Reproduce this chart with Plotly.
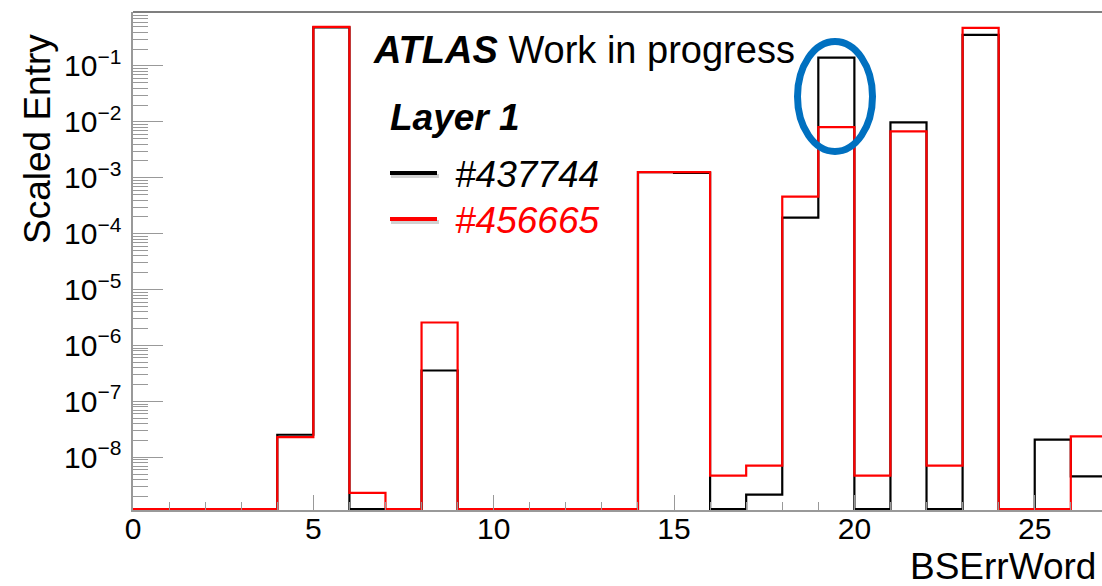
import plotly.graph_objects as go

# ---------------- data ----------------
bin_edges = list(range(0, 28))  # BSErrWord bins 0..27
run_437744 = [0, 0, 0, 0, 2.54e-8, 0.49, 0, 0, 3.58e-7, 0, 0, 0, 0, 0,
              1.26e-3, 1.22e-3, 0, 2.16e-9, 1.93e-4, 0.141, 0, 9.75e-3, 0,
              0.358, 0, 2.07e-8, 4.58e-9]
run_456665 = [0, 0, 0, 0, 2.31e-8, 0.497, 2.31e-9, 0, 2.58e-6, 0, 0, 0, 0, 0,
              1.26e-3, 1.26e-3, 4.71e-9, 7.11e-9, 4.58e-4, 8.04e-3, 4.71e-9,
              6.74e-3, 7.11e-9, 0.478, 0, 0, 2.37e-8]
x_tick_vals = [0, 5, 10, 15, 20, 25]
series_names = ["#437744", "#456665"]
series_colors = ["#000000", "#ff0000"]

# ---------------- layout constants ----------------
W, H = 1102, 586
ML, MR, MT, MB = 133, 0, 12, 76
PW, PH = W - ML - MR, H - MT - MB
X_RANGE = [0, 26.865]
Y_RANGE = [-8.941, -0.036]
FONT = "Liberation Sans, Arial, Helvetica, sans-serif"
zero_floor = 10 ** (Y_RANGE[0] + 0.018)  # ROOT draws empty bins at the frame bottom


def px_x(p):
    return (p - ML) / PW


def px_y(p):
    return (H - MB - p) / PH


def step_xy(vals):
    ys = [v if v > 0 else zero_floor for v in vals]
    return bin_edges, ys + [ys[-1]]


fig = go.Figure()
for vals, name, col in zip([run_437744, run_456665], series_names, series_colors):
    xs, ys = step_xy(vals)
    fig.add_trace(go.Scatter(x=xs, y=ys, mode="lines", line=dict(color=col, width=2.2, shape="hv"),
                             name=name, showlegend=False, hoverinfo="skip"))

fig.update_layout(
    width=W, height=H, margin=dict(l=ML, r=MR, t=MT, b=MB),
    paper_bgcolor="white", plot_bgcolor="white",
    font=dict(family=FONT, color="black"),
    xaxis=dict(range=X_RANGE, tickmode="array", tickvals=x_tick_vals,
               ticktext=[str(v) for v in x_tick_vals], ticks="inside", ticklen=15, tickwidth=1,
               tickcolor="#999999", showline=True, linecolor="#999999", linewidth=1.5,
               showgrid=False, zeroline=False, ticklabelstandoff=-9,
               tickfont=dict(size=30, family=FONT, color="black"),
               minor=dict(dtick=1, tick0=0, ticks="inside", ticklen=8, tickcolor="#999999", tickwidth=1,
                          showgrid=False)),
    yaxis=dict(type="log", range=Y_RANGE, dtick=1, ticks="inside", ticklen=30, tickwidth=1,
               tickcolor="#999999", showline=True, linecolor="#999999", linewidth=1.5,
               showgrid=False, zeroline=False, exponentformat="power", ticklabelstandoff=5,
               tickfont=dict(size=24, family=FONT, color="black"),
               minor=dict(dtick="D1", ticks="inside", ticklen=15, tickcolor="#999999", tickwidth=1,
                          showgrid=False)),
)

shapes = []
# top frame line
shapes.append(dict(type="line", xref="paper", yref="paper", x0=0, x1=1, y0=1, y1=1,
                   line=dict(color="#555555", width=1.5)))
# legend lines with soft shadow
for ypx, col in [(173, "#000000"), (219, "#ff0000")]:
    shapes.append(dict(type="line", xref="paper", yref="paper", x0=px_x(391), x1=px_x(439),
                       y0=px_y(ypx + 3), y1=px_y(ypx + 3), line=dict(color="rgba(0,0,0,0.18)", width=4)))
    shapes.append(dict(type="line", xref="paper", yref="paper", x0=px_x(390), x1=px_x(437),
                       y0=px_y(ypx), y1=px_y(ypx), line=dict(color=col, width=4)))
# blue highlight ellipse
shapes.append(dict(type="circle", xref="paper", yref="paper", x0=px_x(797.5), x1=px_x(872.5),
                   y0=px_y(151.5), y1=px_y(41.5), line=dict(color="#0070c0", width=7)))
fig.update_layout(shapes=shapes)

ann = []
ann.append(dict(text="<b><i>ATLAS</i></b> Work in progress", xref="paper", yref="paper",
                x=px_x(371), y=px_y(50), xanchor="left", yanchor="middle", showarrow=False,
                font=dict(size=38, family=FONT, color="black")))
ann.append(dict(text="<b><i>Layer 1</i></b>", xref="paper", yref="paper",
                x=px_x(388), y=px_y(118), xanchor="left", yanchor="middle", showarrow=False,
                font=dict(size=37, family=FONT, color="black")))
for ypx, name, col in [(175, series_names[0], series_colors[0]), (220, series_names[1], series_colors[1])]:
    ann.append(dict(text="<i>" + name + "</i>", xref="paper", yref="paper",
                    x=px_x(453), y=px_y(ypx), xanchor="left", yanchor="middle", showarrow=False,
                    font=dict(size=37, family=FONT, color=col)))
ann.append(dict(text="Scaled Entry", xref="paper", yref="paper", textangle=-90,
                x=px_x(37), y=px_y(32), xanchor="center", yanchor="top", showarrow=False,
                font=dict(size=37, family=FONT, color="black")))
ann.append(dict(text="BSErrWord", xref="paper", yref="paper",
                x=px_x(1098), y=px_y(566), xanchor="right", yanchor="middle", showarrow=False,
                font=dict(size=37, family=FONT, color="black")))
fig.update_layout(annotations=ann)

fig.write_html("out.html")
